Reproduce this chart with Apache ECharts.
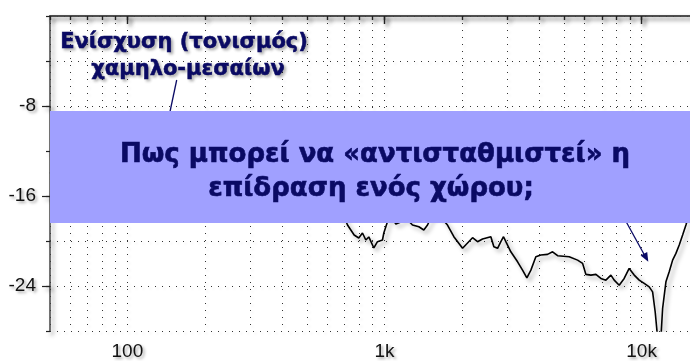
<!DOCTYPE html>
<html>
<head>
<meta charset="utf-8">
<script src="https://cdn.jsdelivr.net/npm/echarts@6/dist/echarts.min.js"></script>
<style>
  html, body { margin: 0; padding: 0; background: #ffffff; }
  #chart { width: 690px; height: 361px; }
</style>
</head>
<body>
<div id="chart"></div>
<script>
// Measured room response: frequency (Hz) and level (dB)
const freqHz = [
  50, 60, 70, 80, 100, 120, 150, 200, 250, 300, 400, 500, 600, 707,
  718, 762, 794, 821, 846, 869, 909, 939, 982, 994, 1012, 1027,
  1058, 1107, 1157, 1210, 1285, 1360, 1422, 1470, 1514, 1627,
  1758, 1861, 2012, 2104, 2200, 2301, 2406, 2592, 2663, 2753, 2835, 2904, 2965,
  3100, 3293, 3443, 3579, 3710, 3879, 4057, 4308, 4505, 4712, 5228,
  5636, 5895, 6073, 6350, 6641, 6943, 7262, 7595, 7824, 8182, 8556, 8947,
  9359, 9788, 10235, 10705, 11035, 11295, 11542, 11887, 12070, 12434,
  12806, 13202, 13600, 14008, 14440, 14874, 15278, 16000, 18000, 20000
];
const levelDb = [
  -14.0, -13.2, -12.6, -12.0, -11.0, -10.5, -10.0, -10.5, -11.5, -12.5, -14.0, -15.5, -17.0, -18.2,
  -18.58, -19.47, -19.73, -19.29, -19.91, -19.64, -20.62, -20.06, -19.91, -19.29, -18.73, -18.28,
  -17.7, -18.49, -18.31, -17.95, -18.58, -18.73, -19.02, -18.58, -17.95, -17.68,
  -18.58, -19.62, -20.65, -20.18, -19.71, -20.06, -19.82, -19.62, -20.51, -20.65, -20.06, -19.62, -20.06,
  -20.96, -21.85, -22.59, -23.27, -22.59, -21.40, -21.25, -21.19, -20.96, -21.31, -21.40,
  -21.70, -21.99, -22.97, -23.03, -22.97, -23.33, -23.48, -23.03, -23.48, -23.93, -23.33, -22.44,
  -23.03, -23.48, -23.77, -24.08, -24.52, -26.31, -28.6, -28.6, -26.00, -23.63,
  -22.74, -21.70, -21.10, -20.36, -19.47, -18.58, -17.68, -16.0, -14.0, -13.0
];

// Axis ticks and labels
const decadeTicks = [100, 1000, 10000];
const minorTicks = [50, 60, 70, 80, 90, 100, 200, 300, 400, 500, 600, 700, 800, 900,
  1000, 2000, 3000, 4000, 5000, 6000, 7000, 8000, 9000, 10000, 20000];
const levelLabels = [-24, -16, -8];

const navy = '#0a0a64';
const shadow = {
  shadowColor: 'rgba(0,0,0,0.35)', shadowBlur: 4, shadowOffsetX: 3, shadowOffsetY: 3
};
const textShadow = {
  textShadowColor: 'rgba(0,0,0,0.35)', textShadowBlur: 3, textShadowOffsetX: 2, textShadowOffsetY: 2
};
const axisLineStyle = Object.assign({ color: '#444', width: 1.5 }, shadow);
const tickStyle = Object.assign({ color: '#222', width: 1.2 }, shadow);
const gridStyle = {
  color: '#333', width: 1, type: [1, 6],
  shadowColor: 'rgba(0,0,0,0.18)', shadowBlur: 3, shadowOffsetX: 2, shadowOffsetY: 2
};

function fmtFreq(v) {
  return v >= 1000 ? (v / 1000) + 'k' : String(v);
}

const logAxisBase = { type: 'log', logBase: 10, min: 50, max: 20000 };

const noteText = {
  fontFamily: 'DejaVu Sans', fontWeight: 'bold', fontSize: 21,
  fill: navy, stroke: navy, lineWidth: 0.5,
  align: 'center', verticalAlign: 'middle',
  textShadowColor: 'rgba(0,0,0,0.3)', textShadowBlur: 3, textShadowOffsetX: 2, textShadowOffsetY: 2
};
const panelText = {
  fontFamily: 'DejaVu Sans', fontWeight: 'bold', fontSize: 26,
  fill: navy, stroke: navy, lineWidth: 0.6,
  align: 'center', verticalAlign: 'middle'
};

const chart = echarts.init(document.getElementById('chart'), null, { renderer: 'canvas' });
chart.setOption({
  animation: false,
  backgroundColor: '#ffffff',
  grid: { left: 50, top: 16, width: 669, height: 315, outerBoundsMode: 'none', containLabel: false },
  xAxis: [
    Object.assign({}, logAxisBase, {
      position: 'bottom',
      axisLine: { show: true, lineStyle: axisLineStyle },
      axisTick: { show: true, customValues: minorTicks, length: 4, lineStyle: tickStyle },
      axisLabel: Object.assign({
        customValues: decadeTicks, formatter: fmtFreq, margin: 11,
        fontFamily: 'Liberation Sans', fontSize: 19, color: '#111'
      }, textShadow),
      splitLine: { show: true, lineStyle: gridStyle }
    }),
    Object.assign({}, logAxisBase, {
      position: 'bottom',
      axisLine: { show: false },
      axisTick: { show: true, customValues: decadeTicks, length: 8, lineStyle: tickStyle },
      axisLabel: { show: false },
      splitLine: { show: false }
    }),
    Object.assign({}, logAxisBase, {
      position: 'top',
      axisLine: { show: true, lineStyle: axisLineStyle },
      axisTick: { show: true, inside: true, customValues: minorTicks, length: 4, lineStyle: tickStyle },
      axisLabel: { show: false },
      splitLine: { show: false }
    }),
    Object.assign({}, logAxisBase, {
      position: 'top',
      axisLine: { show: false },
      axisTick: { show: true, inside: true, customValues: decadeTicks, length: 8, lineStyle: tickStyle },
      axisLabel: { show: false },
      splitLine: { show: false }
    })
  ],
  yAxis: [
    {
      type: 'value', min: -28, max: 0, interval: 4, position: 'left',
      axisLine: { show: true, lineStyle: axisLineStyle },
      axisTick: { show: true, length: 4, lineStyle: tickStyle },
      axisLabel: Object.assign({
        customValues: levelLabels, margin: 14,
        fontFamily: 'Liberation Sans', fontSize: 19, color: '#111'
      }, textShadow),
      splitLine: { show: true, lineStyle: gridStyle }
    },
    {
      type: 'value', min: -28, max: 0, interval: 4, position: 'left',
      axisLine: { show: false },
      axisTick: { show: true, customValues: levelLabels, length: 8, lineStyle: tickStyle },
      axisLabel: { show: false },
      splitLine: { show: false }
    }
  ],
  series: [{
    type: 'line',
    xAxisIndex: 0,
    yAxisIndex: 0,
    data: freqHz.map((f, i) => [f, levelDb[i]]),
    showSymbol: false,
    clip: true,
    lineStyle: Object.assign({ color: '#000', width: 1.6 }, shadow),
    z: 5
  }],
  graphic: [
    // leader line from the note down to the low-mid bump
    {
      type: 'line', z: 50,
      shape: { x1: 176.7, y1: 80, x2: 164, y2: 140 },
      style: { stroke: navy, lineWidth: 1.3 }
    },
    // arrow towards the high-frequency notch
    {
      type: 'line', z: 50,
      shape: { x1: 612, y1: 196, x2: 645, y2: 256 },
      style: { stroke: navy, lineWidth: 1.3 }
    },
    {
      type: 'polygon', z: 50,
      shape: { points: [[648.3, 261.7], [640.6, 255.6], [647.2, 252.0]] },
      style: { fill: navy }
    },
    {
      type: 'text', z: 60,
      style: Object.assign({ text: 'Ενίσχυση (τονισμός)', x: 184, y: 43 }, noteText)
    },
    {
      type: 'text', z: 60,
      style: Object.assign({ text: 'χαμηλο-μεσαίων', x: 188, y: 70 }, noteText)
    },
    // question panel
    {
      type: 'rect', z: 100,
      shape: { x: 50, y: 111, width: 640, height: 112 },
      style: { fill: '#a0a0ff' }
    },
    {
      type: 'text', z: 101,
      style: Object.assign({ text: 'Πως μπορεί να «αντισταθμιστεί» η', x: 375, y: 155 }, panelText)
    },
    {
      type: 'text', z: 101,
      style: Object.assign({ text: 'επίδραση ενός χώρου;', x: 371, y: 189 }, panelText)
    }
  ]
});
</script>
</body>
</html>
